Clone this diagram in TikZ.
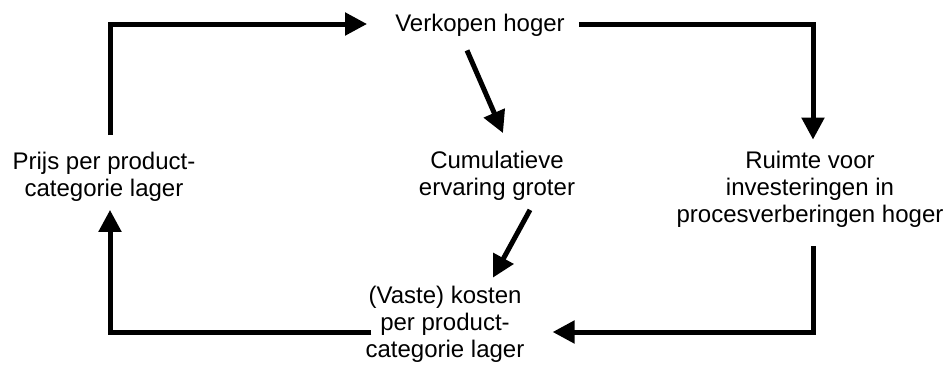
\documentclass[tikz,border=0pt]{standalone}
\usepackage{fontspec}
\setmainfont{Liberation Sans}
\usetikzlibrary{arrows.meta}
\begin{document}
\begin{tikzpicture}[x=1pt,y=-1pt,
  label/.style={font=\fontsize{24}{27}\selectfont, align=center, inner sep=0pt},
  flow/.style={line width=5pt, line join=miter, -{Triangle[length=22pt,width=22pt]}},
]
\useasboundingbox (0,0) rectangle (951,378);

% statements of the cycle
\node[label] (verkopen) at (480,25) {Verkopen hoger};
\node[label] (prijs) at (104,177) {Prijs per product-\\categorie lager};
\node[label] (cumul) at (497,176) {Cumulatieve\\ervaring groter};
\node[label] (ruimte) at (810,189) {Ruimte voor\\investeringen in\\procesverberingen hoger};
\node[label] (kosten) at (445,324) {(Vaste) kosten\\per product-\\categorie lager};

% outer loop
\draw[flow] ([shift={(6,-17)}]prijs.north) |- ([shift={(-28,-1)}]verkopen.west);
\draw[flow] ([shift={(14,-1)}]verkopen.east) -| ([shift={(3,-11)}]ruimte.north);
\draw[flow] ([shift={(3,19)}]ruimte.south) |- ([shift={(28,8)}]kosten.east);
\draw[flow] ([shift={(6,8)}]kosten.west) -| ([shift={(6,8)}]prijs.south);

% inner path via experience
\draw[flow] ([shift={(-13,14)}]verkopen.south) -- ([shift={(6,-18)}]cumul.north);
\draw[flow] ([shift={(33,9)}]cumul.south) -- ([shift={(48,-8)}]kosten.north);
\end{tikzpicture}
\end{document}
